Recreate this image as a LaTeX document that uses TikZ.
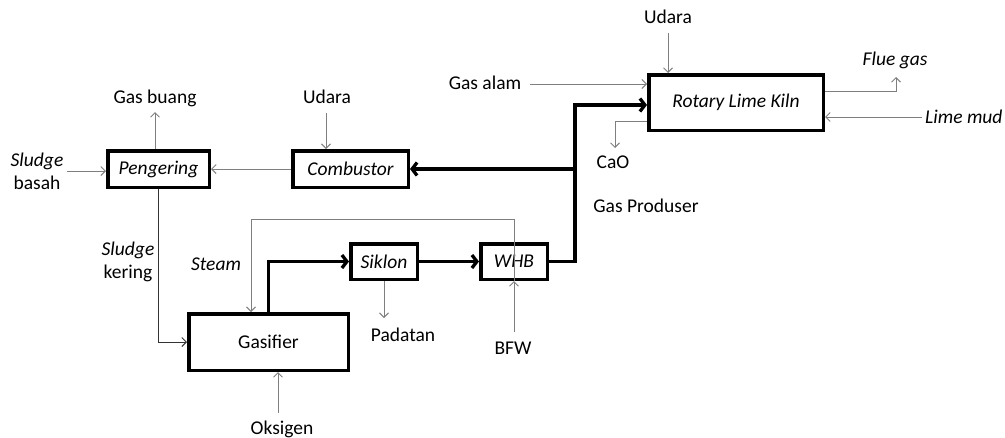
\documentclass[tikz,border=0pt]{standalone}
\usepackage{fontspec}
\setmainfont{Carlito}
\usetikzlibrary{arrows.meta}
\definecolor{lgray}{HTML}{7F7F7F}
\begin{document}
\begin{tikzpicture}[x=1pt,y=-1pt,
  font=\fontsize{19.5}{23}\selectfont,
  unit/.style={draw=black,line width=3.5pt,fill=white,inner sep=0pt},
  lbl/.style={inner sep=0pt,align=center},
  thin/.style={draw=lgray,line width=1pt,-{Straight Barb[length=4.5pt,width=9pt]}},
  thick/.style={draw=black,line width=3.3pt,-{Straight Barb[length=5pt,width=13pt]}}]
\useasboundingbox (0,0) rectangle (1005,437);

% units
\node[unit,minimum width=101.5pt,minimum height=36.5pt] (peng) at (158.5,169) {\itshape Pengering};
\node[unit,minimum width=115.5pt,minimum height=36.5pt] (comb) at (350.5,169) {\itshape Combustor};
\node[unit,minimum width=174.5pt,minimum height=55.5pt] (kiln) at (736,102.5) {\itshape Rotary Lime Kiln};
\node[unit,minimum width=66.5pt,minimum height=35.5pt] (sik) at (384,261.5) {\itshape Siklon};
\node[unit,minimum width=66.5pt,minimum height=35.5pt,fill=none] (whb) at (514,261.5) {\itshape WHB};
\node[unit,minimum width=159.5pt,minimum height=56.5pt] (gas) at (268.5,342) {Gasifier};

% labels
\node[lbl] (tgb) at (155,98) {Gas buang};
\node[lbl] (tu1) at (327,97) {Udara};
\node[lbl] (tu2) at (668,17) {Udara};
\node[lbl] (tga) at (485,83) {Gas alam};
\node[lbl] (tfg) at (895,60) {\itshape Flue gas};
\node[lbl,anchor=west] (tlm) at (925,117) {\itshape Lime mud};
\node[lbl] (tcao) at (613,162) {CaO};
\node[lbl] (tgp) at (646,206) {Gas Produser};
\node[lbl] (tsb) at (37,171.5) {\itshape Sludge\\basah};
\node[lbl] (tsk) at (128,262) {\itshape Sludge\\kering};
\node[lbl] (tst) at (216,264) {\itshape Steam};
\node[lbl] (tpd) at (403,335) {Padatan};
\node[lbl] (tbfw) at (513,348) {BFW};
\node[lbl] (tox) at (282,429) {Oksigen};

% free ends
\coordinate (gb) at (155,112);
\coordinate (sb) at (67,171);
\coordinate (u1) at (326,113);
\coordinate (u2) at (668,33);
\coordinate (ga) at (530,84);
\coordinate (fg) at (896,77);
\coordinate (lm) at (922,117);
\coordinate (cao) at (615,148);
\coordinate (st) at (251,219);
\coordinate (pd) at (384,318);
\coordinate (bfw) at (514,332);
\coordinate (ox) at (278,413);
\coordinate (pr) at (575,105);

% thin streams
\draw[thin] (peng.north -| gb) -- (gb);
\draw[thin] (sb) -- (sb -| peng.west);
\draw[thin] (comb.west) -- (peng.east);
\draw[thin] (u1) -- (u1 |- comb.north);
\draw[thin,draw=black!80] (peng.south) |- (gas.west);
\draw[thin] (whb.south) |- (st) -- (st |- gas.north);
\draw[thin] (sik.south) -- (pd);
\draw[thin] (bfw) -- (whb.south);
\draw[thin] (ox) -- (ox |- gas.south);
\draw[thin] (ga) -- (ga -| kiln.west);
\draw[thin] (u2) -- (u2 |- kiln.north);
\draw[thin] ([yshift=11.5pt]kiln.east) -| (fg);
\draw[thin] (lm) -- (lm -| kiln.east);
\draw[thin] ([yshift=-18.5pt]kiln.west) -| (cao);

% thick streams
\draw[thick] (gas.north) |- (sik.west);
\draw[thick] (sik.east) -- (whb.west);
\draw[thick] (whb.east) -| (pr) -- (pr -| kiln.west);
\draw[thick] (pr |- comb.east) -- (comb.east);
\end{tikzpicture}
\end{document}
